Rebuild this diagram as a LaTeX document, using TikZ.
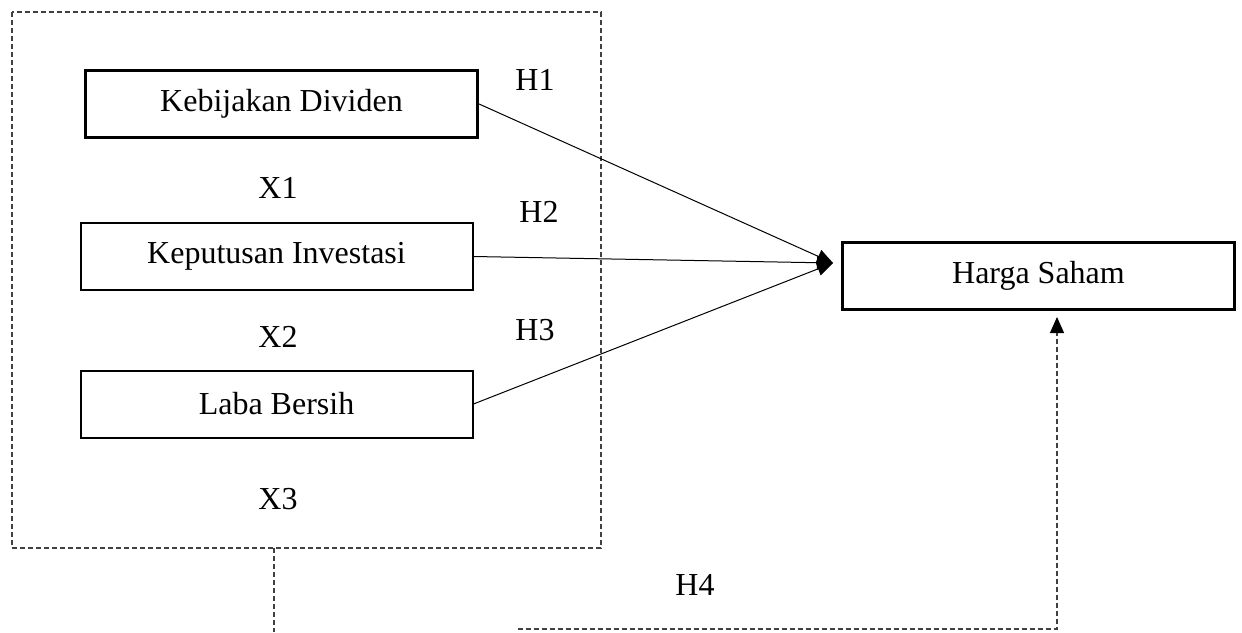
\documentclass[tikz,border=0pt]{standalone}
\usepackage{fontspec}
\setmainfont{Liberation Serif}
\usetikzlibrary{positioning,arrows.meta}

\begin{document}
\begin{tikzpicture}[x=0.5pt, y=-0.5pt, font=\fontsize{16}{19}\selectfont,
		varbox/.style={rectangle, draw, line width=1pt, minimum width=196pt, minimum height=33.5pt, inner sep=0},
		grpline/.style={draw=black!75, line width=0.6pt, dash pattern=on 2.5pt off 1.5pt},
		arr/.style={-{Triangle[length=8pt, width=7pt, color=black]}}]
		\useasboundingbox (0,0) rectangle (1242,632);
		\draw[grpline] (12,12) rectangle (601,548);
		\node[varbox, line width=1.6pt] at(281.5,104) (kd) {Kebijakan Dividen};
		\node[varbox] at(276.5,256.5) (ki) {Keputusan Investasi};
		\node[varbox] at(276.5,404) (lb) {Laba Bersih};
		\node[varbox, line width=1.3pt] at(1038.5,276) (hs) {Harga Saham};
		\foreach \y/\n in {188/1,337/2,499/3} {
			\node at(278,\y) (x\n) {X\n};
		};
		\foreach \x/\y/\n in {535/80/1,539/212/2,535/330/3,695/585/4} {
			\node at(\x,\y) (h\n) {H\n};
		};
		\coordinate (mid) at (833,263);
		\path[draw, line width=0.5pt]
			(kd.east) edge[arr] (mid)
			(ki.east) edge[arr] (mid)
			(lb.east) edge[arr] (mid);
		\coordinate (gb) at (274,548);
		\coordinate (ge) at (274,632);
		\coordinate (hb) at (518,629);
		\coordinate (ht) at (1057,317);
		\draw[grpline] (gb) -- (ge);
		\draw[grpline, arr] (hb) -| (ht);
	\end{tikzpicture}
\end{document}
